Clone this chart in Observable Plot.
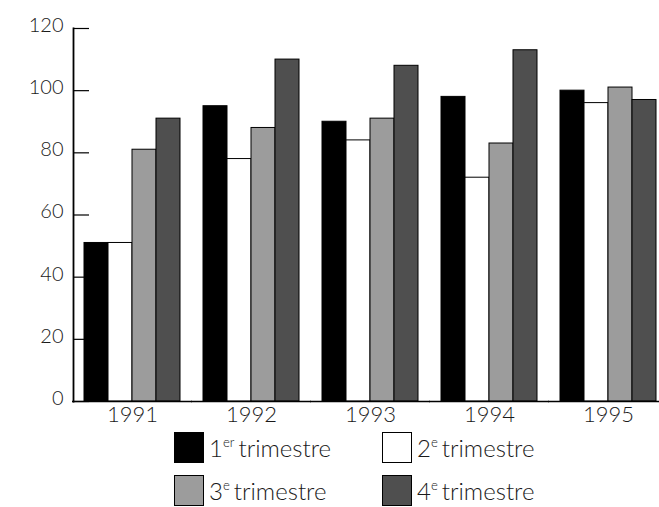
<!DOCTYPE html>
<html><head><meta charset="utf-8">
<script src="https://cdn.jsdelivr.net/npm/d3@7"></script>
<script src="https://cdn.jsdelivr.net/npm/@observablehq/plot@0.6"></script>
<style>
body{margin:0;background:#fff;font-family:Lato,"Open Sans",sans-serif;}
#wrap{position:relative;width:659px;height:507px;overflow:hidden;}
.legend{position:absolute;left:174px;top:432px;display:grid;grid-template-columns:208px 170px;row-gap:12px;}
.item{display:flex;align-items:center;height:31px;font-size:24px;font-weight:300;color:#1a1a1a;white-space:nowrap;}
.sw{width:30px;height:31px;box-sizing:border-box;border:1.5px solid #000;margin-right:5px;flex:none;}
.item sup{font-size:0.55em;vertical-align:0.75em;line-height:0;margin-right:4px;}
</style>
</head><body>
<div id="wrap"><div id="chart"></div><div class="legend" id="legend"></div></div>
<script>
const years = ["1991","1992","1993","1994","1995"];
const quarterKeys = ["Q1","Q2","Q3","Q4"];
const quarterNum = ["1","2","3","4"];
const quarterSup = ["er","e","e","e"];
const quarterWord = "trimestre";
const q1 = [51, 95, 90, 98, 100];
const q2 = [51, 78, 84, 72, 96];
const q3 = [81, 88, 91, 83, 101];
const q4 = [91, 110, 108, 113, 97];
const yTicks = [0, 20, 40, 60, 80, 100, 120];
const fills = ["#000000", "#ffffff", "#9c9c9c", "#4f4f4f"];

const series = [q1, q2, q3, q4];
const data = [];
years.forEach((yr, i) => quarterKeys.forEach((q, j) => data.push({year: yr, q, value: series[j][i]})));

const plot = Plot.plot({
  width: 659, height: 430,
  marginLeft: 72, marginRight: 0, marginTop: 28, marginBottom: 29,
  style: {fontFamily: "Lato, 'Open Sans', sans-serif", fontWeight: 300, color: "#1a1a1a", background: "transparent"},
  fx: {domain: years, paddingInner: 0.193, paddingOuter: 0.059, align: 0.786, label: null},
  x: {domain: quarterKeys, padding: 0, axis: null},
  y: {domain: [0, 120], axis: null},
  color: {domain: quarterKeys, range: fills},
  marks: [
    Plot.axisY({ticks: yTicks, tickSize: -16, text: null, label: null, dx: -11, strokeWidth: 1.2, stroke: "#000"}),
    Plot.axisY({ticks: yTicks, tickSize: 0, tickPadding: 10, dx: -11, dy: -3, fontSize: 20, label: null, fill: "#1a1a1a"}),
    Plot.frame({anchor: "left", facetAnchor: "left", dx: -11, stroke: "#000", strokeWidth: 1.8}),
    Plot.barY(data, {fx: "year", x: "q", y: "value", fill: "q", stroke: "#000", strokeWidth: 1}),
    Plot.ruleY([0], {insetLeft: -12, insetRight: -12, stroke: "#000", strokeWidth: 1.5}),
    Plot.axisFx({anchor: "bottom", tickSize: 0, tickPadding: 5, fontSize: 22, label: null, fill: "#1a1a1a"})
  ]
});
document.getElementById("chart").appendChild(plot);

const legend = document.getElementById("legend");
[0, 1, 2, 3].forEach(j => {
  const item = document.createElement("div");
  item.className = "item";
  const sw = document.createElement("span");
  sw.className = "sw";
  sw.style.background = fills[j];
  item.appendChild(sw);
  const t = document.createElement("span");
  t.innerHTML = quarterNum[j] + "<sup>" + quarterSup[j] + "</sup>" + quarterWord;
  item.appendChild(t);
  legend.appendChild(item);
});
</script>
</body></html>
